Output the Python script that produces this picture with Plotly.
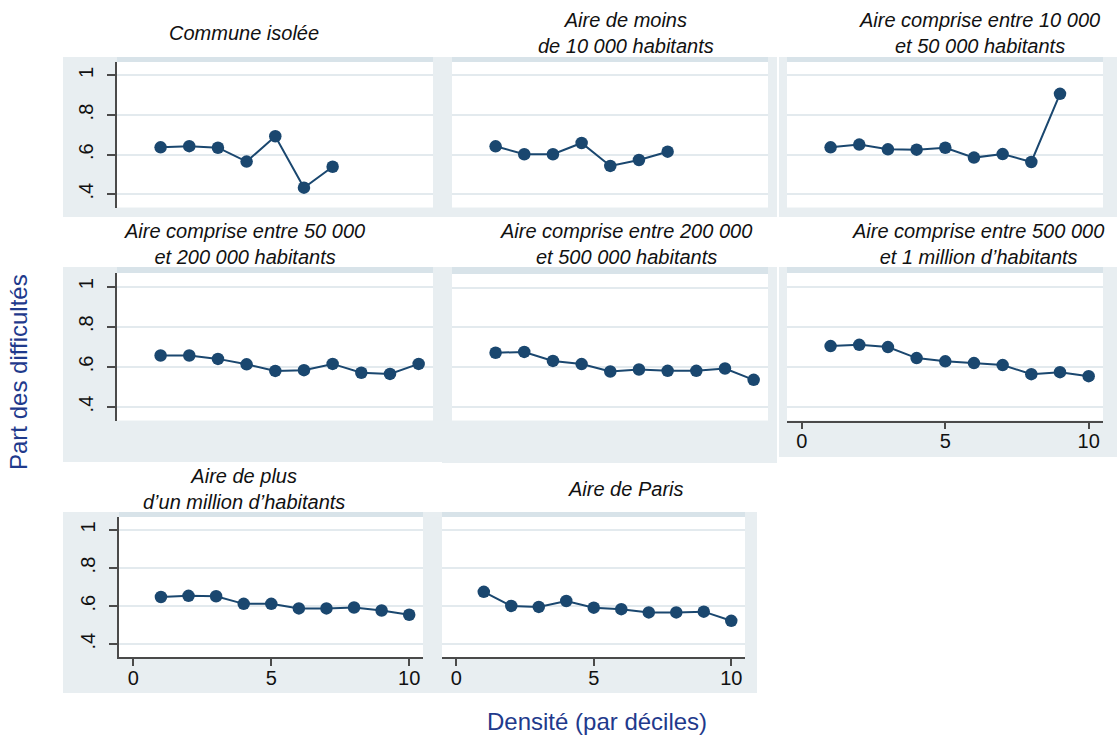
import plotly.graph_objects as go

W, H = 1117, 735

# ---- data ----
deciles = list(range(1, 11))

commune_isolee = [0.637, 0.643, 0.635, 0.565, 0.693, 0.433, 0.539]
aire_moins_10k = [0.642, 0.602, 0.602, 0.659, 0.543, 0.573, 0.615]
aire_10k_50k = [0.637, 0.651, 0.627, 0.625, 0.635, 0.585, 0.603, 0.563, 0.907]
aire_50k_200k = [0.657, 0.657, 0.640, 0.613, 0.580, 0.584, 0.615, 0.571, 0.565, 0.615]
aire_200k_500k = [0.673, 0.677, 0.632, 0.616, 0.579, 0.589, 0.582, 0.582, 0.594, 0.537]
aire_500k_1m = [0.704, 0.710, 0.699, 0.644, 0.628, 0.619, 0.609, 0.564, 0.574, 0.554]
aire_plus_1m = [0.648, 0.654, 0.652, 0.612, 0.612, 0.588, 0.588, 0.593, 0.577, 0.555]
aire_paris = [0.675, 0.601, 0.596, 0.627, 0.592, 0.584, 0.567, 0.567, 0.571, 0.523]

titres = [
    "Commune isolée",
    "Aire de moins<br>de 10 000 habitants",
    "Aire comprise entre 10 000<br>et 50 000 habitants",
    "Aire comprise entre 50 000<br>et 200 000 habitants",
    "Aire comprise entre 200 000<br>et 500 000 habitants",
    "Aire comprise entre 500 000<br>et 1 million d’habitants",
    "Aire de plus<br>d’un million d’habitants",
    "Aire de Paris",
]
series = [commune_isolee, aire_moins_10k, aire_10k_50k, aire_50k_200k,
          aire_200k_500k, aire_500k_1m, aire_plus_1m, aire_paris]

y_ticks = [0.4, 0.6, 0.8, 1.0]
y_ticktext = [".4", ".6", ".8", "1"]
x_ticks = [0, 5, 10]

# ---- panel geometry (pixels): plot box, background box, title centre ----
panels = [
    dict(plot=(117, 433, 62, 207.5), bg=(63, 442, 57, 217), t=(244, 33), yax=True, xax=False),
    dict(plot=(452, 768, 62, 207.5), bg=(442, 777, 57, 217), t=(626, 33), yax=False, xax=False),
    dict(plot=(787, 1103, 62, 207.5), bg=(779, 1117, 57, 217), t=(979, 33), yax=False, xax=False),
    dict(plot=(117, 433, 273, 420.5), bg=(63, 442, 267, 462), t=(244, 244), yax=True, xax=False),
    dict(plot=(452, 768, 274, 420.5), bg=(442, 777, 267, 463), t=(626, 244), yax=False, xax=False),
    dict(plot=(787, 1103, 273, 420.5), bg=(779, 1117, 267, 457), t=(978, 244), yax=False, xax=True),
    dict(plot=(119, 423, 517, 657), bg=(63, 432, 512, 693), t=(244, 489), yax=True, xax=True),
    dict(plot=(442, 745, 517, 657), bg=(432, 757, 512, 693), t=(626, 489), yax=False, xax=True),
]

NAVY = "#1a476f"
BG = "#e8eef1"
STRIP = "#d8e3e9"
GRID = "#e3eaee"
AXIS = "#4a4a4a"
FONT = "Liberation Sans, Arial, sans-serif"


def fx(px):
    return px / W


def fy(py):
    return 1 - py / H


fig = go.Figure()
shapes = []
annotations = []
layout_axes = {}

for i, (p, vals, titre) in enumerate(zip(panels, series, titres), start=1):
    sfx = "" if i == 1 else str(i)
    x0, x1, y0, y1 = p["plot"]
    bx0, bx1, by0, by1 = p["bg"]

    # panel background, top strip and white plot area
    shapes.append(dict(type="rect", xref="paper", yref="paper", layer="below",
                       x0=fx(bx0), x1=fx(bx1), y0=fy(by1), y1=fy(by0),
                       fillcolor=BG, line=dict(width=0)))
    shapes.append(dict(type="rect", xref="paper", yref="paper", layer="below",
                       x0=fx(x0), x1=fx(x1), y0=fy(y0), y1=fy(by0),
                       fillcolor=STRIP, line=dict(width=0)))
    shapes.append(dict(type="rect", xref="paper", yref="paper", layer="below",
                       x0=fx(x0), x1=fx(x1), y0=fy(y1), y1=fy(y0),
                       fillcolor="white", line=dict(width=0)))

    fig.add_trace(go.Scatter(
        x=deciles[:len(vals)], y=vals, mode="lines+markers",
        xaxis="x" + sfx, yaxis="y" + sfx,
        line=dict(color=NAVY, width=2),
        marker=dict(color=NAVY, size=12.5),
        showlegend=False, hoverinfo="x+y",
    ))

    xa = dict(domain=[fx(x0), fx(x1)], anchor="y" + sfx, range=[-0.52, 10.5],
              showgrid=False, zeroline=False, fixedrange=True)
    if p["xax"]:
        xa.update(showline=True, linecolor=AXIS, linewidth=1.5,
                  ticks="outside", ticklen=7, tickwidth=1.5, tickcolor=AXIS,
                  tickvals=x_ticks, ticktext=[str(v) for v in x_ticks],
                  ticklabelstandoff=-5,
                  tickfont=dict(family=FONT, size=20, color="#111111"))
    else:
        xa.update(showline=False, showticklabels=False, ticks="")

    ya = dict(domain=[fy(y1), fy(y0)], anchor="x" + sfx, range=[0.333, 1.068],
              showgrid=True, gridcolor=GRID, gridwidth=1.5, zeroline=False,
              tickvals=y_ticks, fixedrange=True)
    if p["yax"]:
        ya.update(showline=True, linecolor=AXIS, linewidth=1.5,
                  ticks="outside", ticklen=8, tickwidth=1.5, tickcolor=AXIS,
                  ticktext=y_ticktext, tickangle=-90, ticklabelstandoff=6,
                  tickfont=dict(family=FONT, size=20, color="#111111"))
    else:
        ya.update(showline=False, showticklabels=False, ticks="")

    layout_axes["xaxis" + sfx] = xa
    layout_axes["yaxis" + sfx] = ya

    tx, ty = p["t"]
    annotations.append(dict(text="<i>" + titre + "</i>", xref="paper", yref="paper",
                            x=fx(tx), y=fy(ty), xanchor="center", yanchor="middle",
                            showarrow=False,
                            font=dict(family=FONT, size=20, color="#111111")))

# axis titles
annotations.append(dict(text="Part des difficultés", xref="paper", yref="paper",
                        x=fx(18), y=fy(372), xanchor="center", yanchor="middle",
                        textangle=-90, showarrow=False,
                        font=dict(family=FONT, size=24, color="#1f3a8c")))
annotations.append(dict(text="Densité (par déciles)", xref="paper", yref="paper",
                        x=fx(597), y=fy(721), xanchor="center", yanchor="middle",
                        showarrow=False,
                        font=dict(family=FONT, size=24, color="#1f3a8c")))

fig.update_layout(
    width=W, height=H, autosize=False,
    margin=dict(l=0, r=0, t=0, b=0),
    paper_bgcolor="white", plot_bgcolor="rgba(0,0,0,0)",
    shapes=shapes, annotations=annotations,
    font=dict(family=FONT),
    **layout_axes,
)

# page body has a default 8px margin; drop it so the figure fills the window
fig.write_html("out.html", config={"displayModeBar": False},
               post_script="document.body.style.margin='0';")
